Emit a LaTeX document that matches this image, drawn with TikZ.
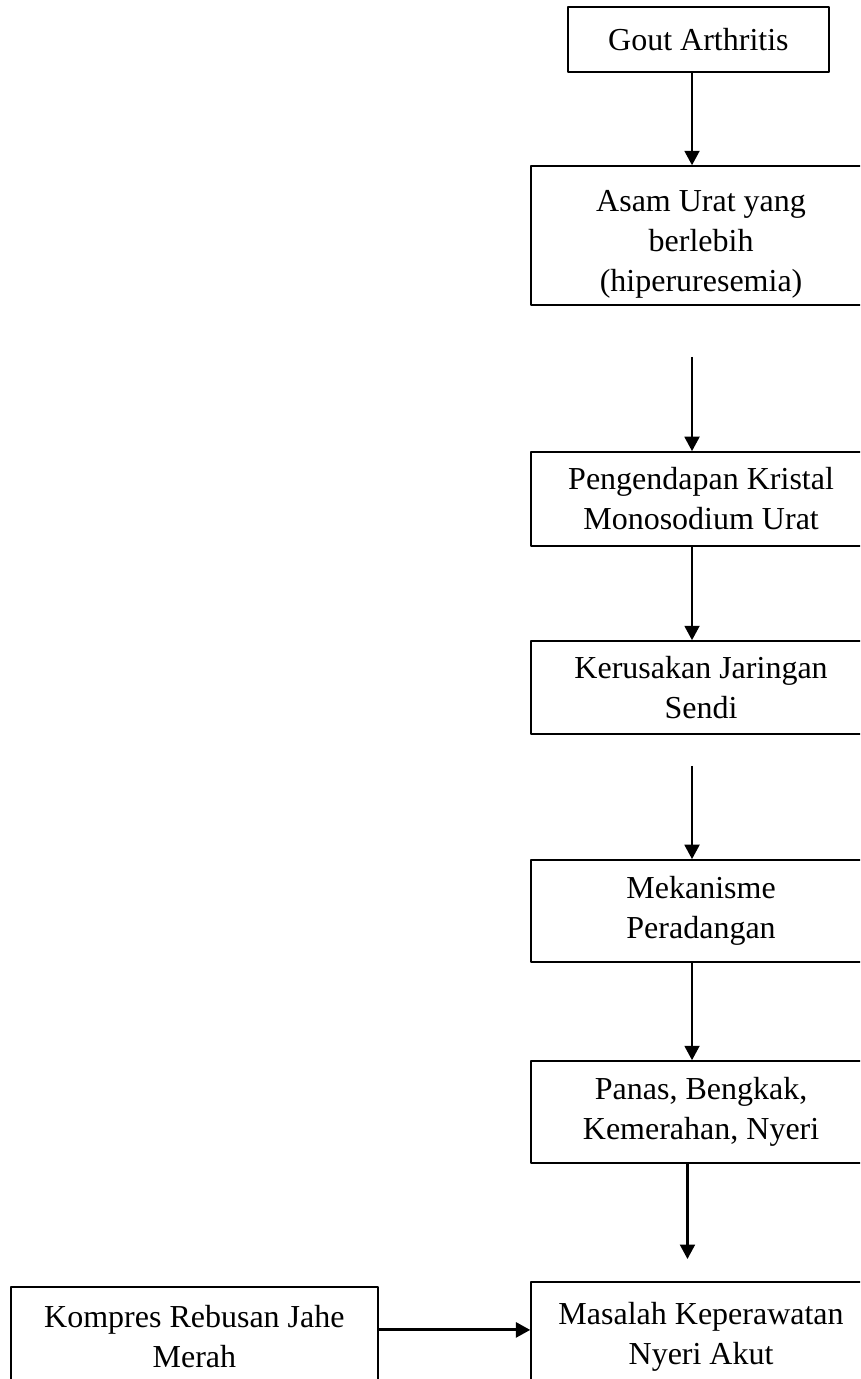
\documentclass[tikz,border=0pt]{standalone}
\usepackage{fontspec}
\setmainfont{Liberation Serif}
\usetikzlibrary{arrows.meta}
\tikzset{
  flowbox/.style={draw=black,line width=0.6bp,inner sep=0bp,align=center,
    font=\fontsize{12bp}{15bp}\selectfont},
  flowline/.style={black,->,line width=0.8bp},
}
\begin{document}
\begin{tikzpicture}[>={Triangle[width=5.6bp,length=5.4bp]},line join=bevel,]
%%
\clip (0bp,0bp) rectangle (322.5bp,517.125bp);
\node (node_0) at (261.9bp,502.3bp) [flowbox,minimum width=97.9bp,minimum height=24.4bp] {Gout Arthritis};
  \node (node_1) at (262.9bp,428.8bp) [flowbox,minimum width=127.5bp,minimum height=52.1bp] {\rule{0pt}{14.4bp}Asam Urat yang\\berlebih\\(hiperuresemia)};
  \node (node_2) at (262.9bp,330.0bp) [flowbox,minimum width=127.5bp,minimum height=35.3bp] {Pengendapan Kristal\\Monosodium Urat};
  \node (node_3) at (262.9bp,259.3bp) [flowbox,minimum width=127.5bp,minimum height=34.9bp] {Kerusakan Jaringan\\Sendi};
  \node (node_4) at (262.9bp,175.5bp) [flowbox,minimum width=127.5bp,minimum height=38.3bp] {Mekanisme\\Peradangan};
  \node (node_5) at (262.9bp,100.1bp) [flowbox,minimum width=127.5bp,minimum height=38.3bp] {Panas, Bengkak,\\Kemerahan, Nyeri};
  \node (node_6) at (262.9bp,15.8bp) [flowbox,minimum width=127.5bp,minimum height=41.3bp] {Masalah Keperawatan\\Nyeri Akut};
  \node (node_7) at (72.9bp,15.8bp) [flowbox,minimum width=137.6bp,minimum height=37.5bp] {Kompres Rebusan Jahe\\Merah};
  \coordinate (stem) at (259.5bp,0bp);
  \coordinate (tail_1) at (259.5bp,383.3bp);
  \coordinate (tail_2) at (259.5bp,229.9bp);
  \coordinate (head_6) at (257.8bp,45.0bp);
  \coordinate (row) at (0bp,18.4bp);
  \draw [flowline] (node_0.south -| stem) -- (node_1.north -| stem);
  \draw [flowline] (tail_1) -- (node_2.north -| stem);
  \draw [flowline] (node_2.south -| stem) -- (node_3.north -| stem);
  \draw [flowline] (tail_2) -- (node_4.north -| stem);
  \draw [flowline] (node_4.south -| stem) -- (node_5.north -| stem);
  \draw [flowline] (node_5.south -| head_6) -- (head_6);
  \draw [flowline,line width=1.1bp] (node_7.east |- row) -- (node_6.west |- row);
%
\end{tikzpicture}
\end{document}
